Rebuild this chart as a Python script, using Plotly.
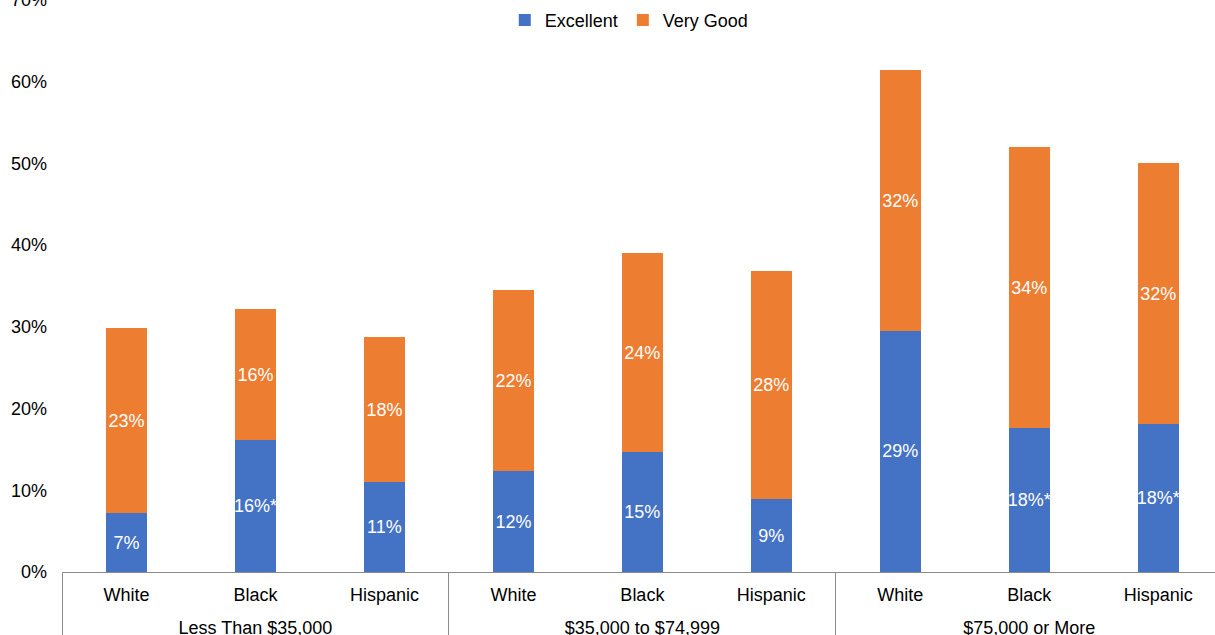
import plotly.graph_objects as go

groups = ["Less Than $35,000"] * 3 + ["$35,000 to $74,999"] * 3 + ["$75,000 or More"] * 3
races = ["White", "Black", "Hispanic"] * 3
excellent = [7.2, 16.1, 11.0, 12.3, 14.7, 8.9, 29.5, 17.6, 18.1]
very_good = [22.6, 16.1, 17.7, 22.2, 24.3, 27.9, 31.9, 34.4, 31.9]
excellent_labels = ["7%", "16%*", "11%", "12%", "15%", "9%", "29%", "18%*", "18%*"]
very_good_labels = ["23%", "16%", "18%", "22%", "24%", "28%", "32%", "34%", "32%"]

FONT = "Liberation Sans, Arial, sans-serif"
FS = 18

# invisible lowered dots on both sides of each inner label: they make the label box
# taller so the group labels sit lower, while keeping the label centred
pad = "<span style='font-size:48px;color:rgba(255,255,255,0)'><sub>.</sub></span>"
races_disp = [pad + r + pad for r in races]

fig = go.Figure()
fig.add_trace(go.Bar(
    name="Excellent", x=[groups, races_disp], y=excellent,
    marker=dict(color="#4472C4", line=dict(width=0)),
    text=excellent_labels, textposition="inside", insidetextanchor="middle",
    constraintext="none", textangle=0,
    textfont=dict(color="white", size=FS, family=FONT),
    hoverinfo="skip",
))
fig.add_trace(go.Bar(
    name="Very Good", x=[groups, races_disp], y=very_good,
    marker=dict(color="#ED7D31", line=dict(width=0)),
    text=very_good_labels, textposition="inside", insidetextanchor="middle",
    constraintext="none", textangle=0,
    textfont=dict(color="white", size=FS, family=FONT),
    hoverinfo="skip",
))

fig.update_layout(
    barmode="stack",
    bargap=0.68,
    width=1215, height=635,
    margin=dict(l=62, r=0, t=0, b=63),
    paper_bgcolor="white", plot_bgcolor="white",
    font=dict(family=FONT, size=FS, color="#000000"),
    legend=dict(orientation="h", x=0.492, xanchor="center", y=0.997, yanchor="top",
                font=dict(size=FS), bgcolor="rgba(0,0,0,0)", traceorder="normal",
                itemwidth=30),
    showlegend=True,
)
fig.update_xaxes(
    type="multicategory",
    range=[-0.5, 8.44],
    automargin=False,
    showline=True, linecolor="#8c8c8c", linewidth=1,
    tickson="boundaries", ticks="", showgrid=False,
    dividercolor="#8c8c8c", dividerwidth=1, showdividers=True,
    ticklabelstandoff=6,
    tickfont=dict(size=FS, color="#000000"),
)
fig.update_yaxes(
    range=[0, 70], dtick=10, ticksuffix="%",
    automargin=False, ticklabeloverflow="allow", ticklabelstandoff=14,
    showgrid=False, zeroline=False, showline=False,
    tickfont=dict(size=FS, color="#000000"), ticks="",
)

fig.write_html(
    "out.html",
    config={"displayModeBar": False},
    post_script="document.body.style.margin='0px';document.body.style.overflow='hidden';",
)
